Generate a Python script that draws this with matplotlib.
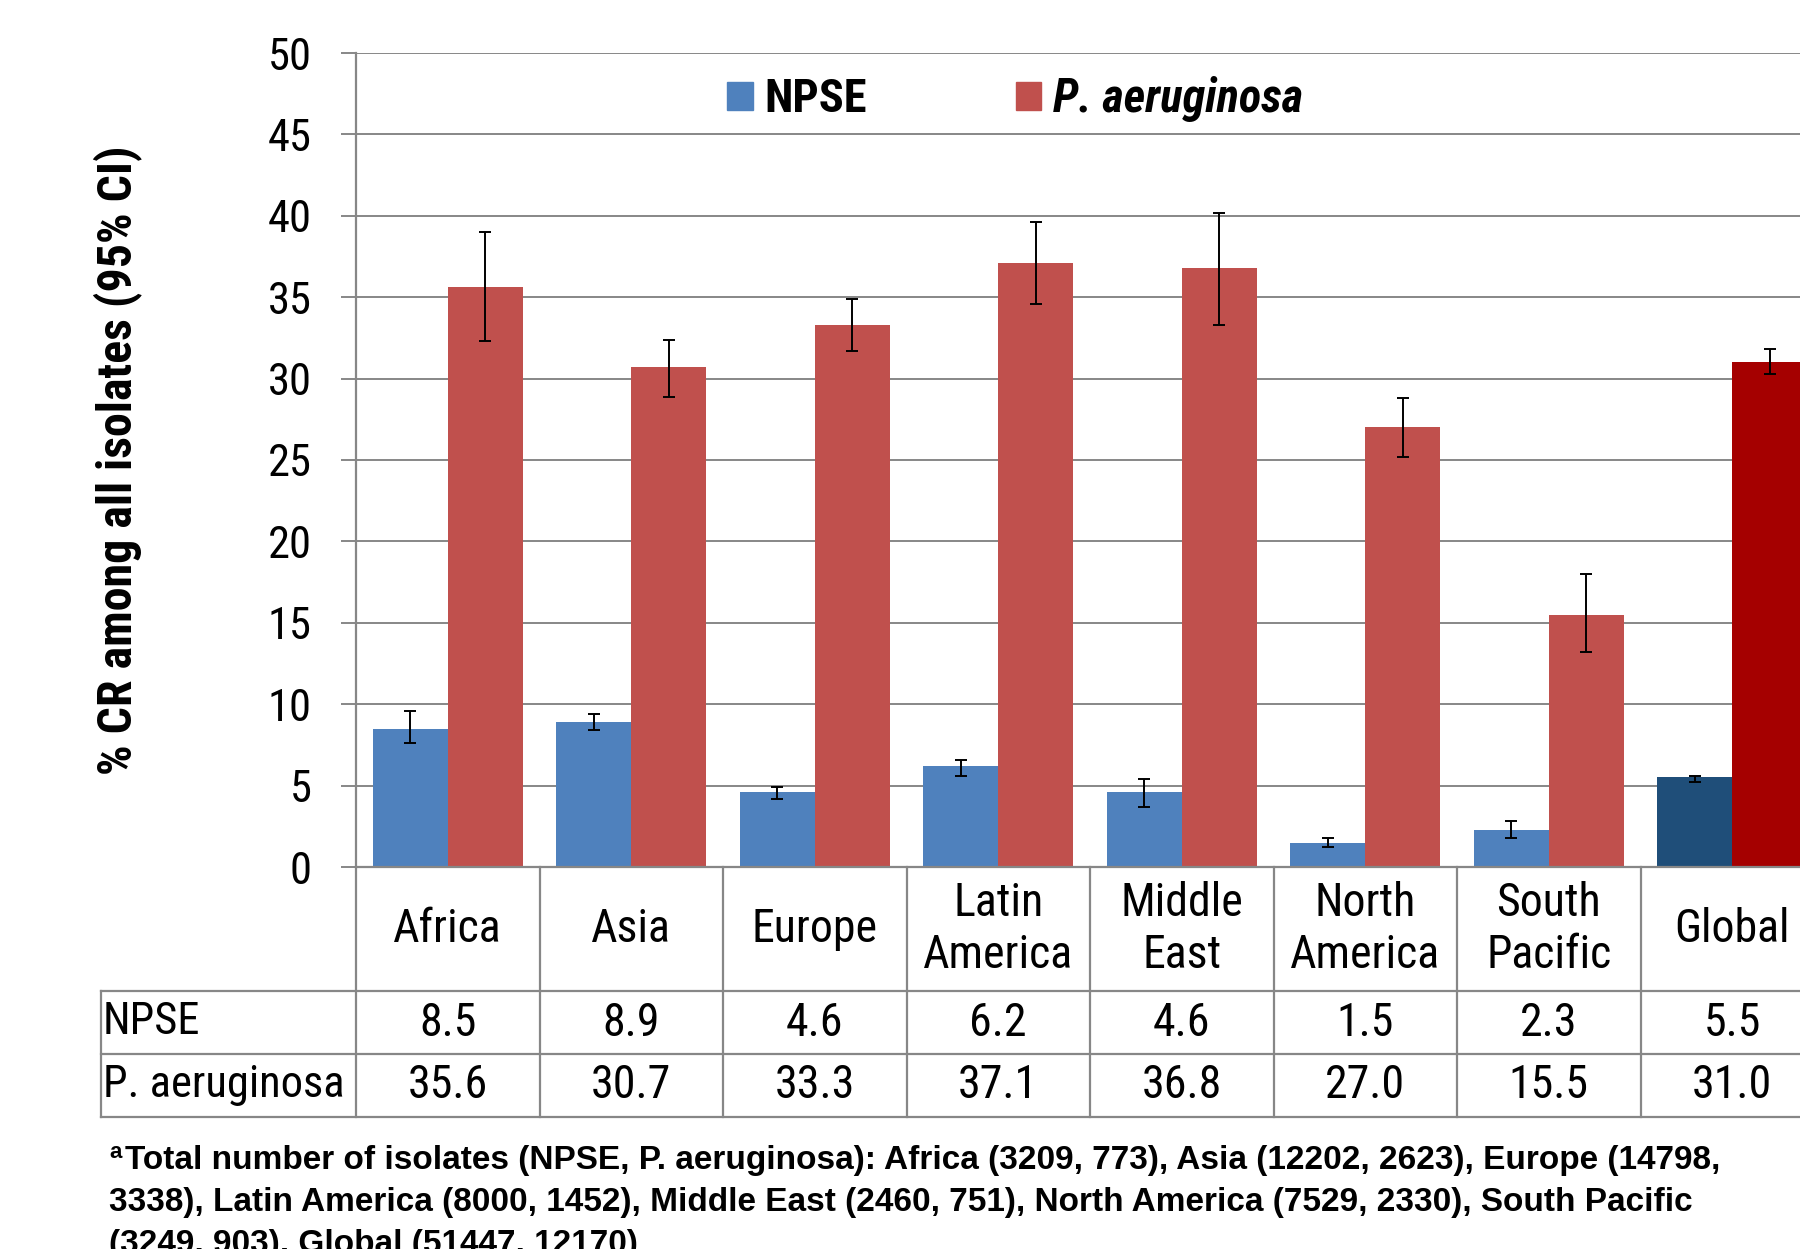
import numpy as np
import matplotlib
matplotlib.use("Agg")
import matplotlib.pyplot as plt
from matplotlib.patches import Patch

# narrow sans, close to the squeezed Arial of the original
plt.rcParams["font.family"] = ["Roboto Condensed", "Archivo Narrow", "Liberation Sans", "DejaVu Sans"]

# ── Data ─────────────────────────────────────────────────────────────────────
regions = ["Africa", "Asia", "Europe", "Latin\nAmerica", "Middle\nEast",
           "North\nAmerica", "South\nPacific", "Global"]
npse = [8.5, 8.9, 4.6, 6.2, 4.6, 1.5, 2.3, 5.5]
npse_lo = [7.6, 8.4, 4.2, 5.6, 3.7, 1.2, 1.8, 5.2]
npse_hi = [9.6, 9.4, 4.9, 6.6, 5.4, 1.8, 2.8, 5.6]
pa = [35.6, 30.7, 33.3, 37.1, 36.8, 27.0, 15.5, 31.0]
pa_lo = [32.3, 28.9, 31.7, 34.6, 33.3, 25.2, 13.2, 30.3]
pa_hi = [39.0, 32.4, 34.9, 39.6, 40.2, 28.8, 18.0, 31.8]
row_labels = ["NPSE", "P. aeruginosa"]
footnote = ["Total number of isolates (NPSE, P. aeruginosa): Africa (3209, 773), Asia (12202, 2623), Europe (14798,",
            "3338), Latin America (8000, 1452), Middle East (2460, 751), North America (7529, 2330), South Pacific",
            "(3249, 903), Global (51447, 12170)"]

c_npse = ["#4F81BD"] * 7 + ["#1F4E79"]
c_pa = ["#C0504D"] * 7 + ["#A50000"]
grid_c = "#878787"

W, H = 1800, 1249
fig = plt.figure(figsize=(18, 12.49), dpi=100)
# axes runs past the right edge, as in the cropped original
x0, x1, yb, yt = 356, 1824, 867, 53
ax = fig.add_axes([x0 / W, 1 - yb / H, (x1 - x0) / W, (yb - yt) / H])

x = np.arange(len(regions))
bw = 0.41
npse_err = [np.array(npse) - np.array(npse_lo), np.array(npse_hi) - np.array(npse)]
pa_err = [np.array(pa) - np.array(pa_lo), np.array(pa_hi) - np.array(pa)]
ekw = dict(ecolor="black", elinewidth=1.4, capsize=4.5, capthick=1.4)
ax.bar(x - bw / 2, npse, bw, color=c_npse, yerr=npse_err, error_kw=ekw, zorder=3)
ax.bar(x + bw / 2, pa, bw, color=c_pa, yerr=pa_err, error_kw=ekw, zorder=3)

ax.set_xlim(-0.5, len(regions) - 0.5)
ax.set_ylim(0, 50)
ax.set_yticks(np.arange(0, 51, 5))
ax.grid(axis="y", color=grid_c, lw=1.4, zorder=0)
ax.tick_params(axis="y", length=11, width=1.4, color=grid_c, pad=21, labelsize=32)
ax.tick_params(axis="x", bottom=False, labelbottom=False)
for s in ["top", "right", "bottom"]:
    ax.spines[s].set_visible(False)
ax.spines["left"].set_color(grid_c)
ax.spines["left"].set_linewidth(1.6)

fig.text(118 / W, 0.5 * (2 - (yb + yt) / H), "% CR among all isolates (95% CI)",
         rotation=90, ha="center", va="center", fontsize=34.5, fontweight="bold")

# legend
handles = [Patch(color=c_npse[0]), Patch(color=c_pa[0])]
leg = fig.legend(handles, row_labels, loc="center", bbox_to_anchor=(1015 / W, 1 - 99 / H),
                 ncol=2, frameon=False, handlelength=0.55, handleheight=0.55,
                 handletextpad=0.25, columnspacing=3.2, prop={"weight": "bold", "size": 33.5})
leg.get_texts()[1].set_style("italic")

# ── Data table under the axis ───────────────────────────────────────────────
lk = dict(color=grid_c, lw=1.6, clip_on=False, transform=fig.transFigure)
r_head, r1, r2, r3 = 867, 991, 1054, 1117
def fy(p):
    return 1 - p / H
xl = 101
fig.add_artist(plt.Line2D([x0 / W, 1], [fy(r_head)] * 2, **lk))
for r in (r1, r2, r3):
    fig.add_artist(plt.Line2D([xl / W, 1], [fy(r)] * 2, **lk))
fig.add_artist(plt.Line2D([xl / W] * 2, [fy(r1), fy(r3)], **lk))
fig.add_artist(plt.Line2D([x0 / W] * 2, [fy(r_head), fy(r3)], **lk))
cw = (x1 - x0) / len(regions)
for i in range(1, len(regions)):
    xp = (x0 + i * cw) / W
    fig.add_artist(plt.Line2D([xp, xp], [fy(r_head), fy(r3)], **lk))

for i, reg in enumerate(regions):
    xc = (x0 + (i + 0.5) * cw) / W
    fig.text(xc, fy((r_head + r1) / 2), reg, ha="center", va="center",
             fontsize=33, linespacing=1.24)
    fig.text(xc, fy((r1 + r2) / 2), f"{npse[i]:.1f}", ha="center", va="center", fontsize=33)
    fig.text(xc, fy((r2 + r3) / 2), f"{pa[i]:.1f}", ha="center", va="center", fontsize=33)
fig.text(103 / W, fy((r1 + r2) / 2), row_labels[0], ha="left", va="center", fontsize=32)
fig.text(103 / W, fy((r2 + r3) / 2), row_labels[1], ha="left", va="center", fontsize=32)

# footnote (wider bold face, like the original)
fk = dict(ha="left", va="center", fontweight="bold", family=["Liberation Sans", "DejaVu Sans"])
fig.text(109 / W, fy(1152), "a", fontsize=16, **fk)
ys = [1160, 1203, 1244]
fig.text(125 / W, fy(ys[0]), footnote[0], fontsize=24, **fk)
for yy, line in zip(ys[1:], footnote[1:]):
    fig.text(109 / W, fy(yy), line, fontsize=24, **fk)

fig.savefig("out.png", dpi=100)
